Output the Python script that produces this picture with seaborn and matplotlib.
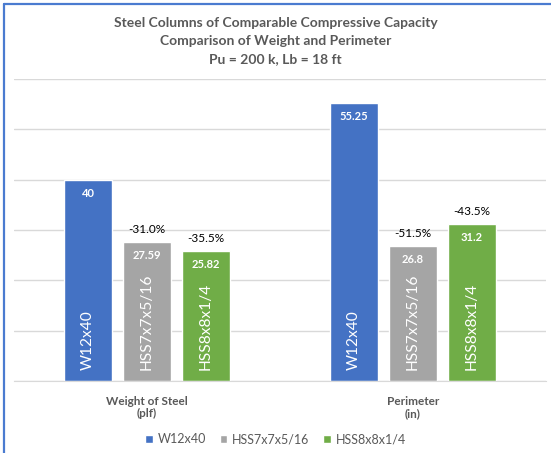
import matplotlib
matplotlib.use("Agg")
import matplotlib.pyplot as plt
import seaborn as sns
import pandas as pd
from matplotlib.lines import Line2D

# data
categories = ["Weight of Steel\n(plf)", "Perimeter\n(in)"]
sections = ["W12x40", "HSS7x7x5/16", "HSS8x8x1/4"]
w12_vals = [40, 55.25]
hss7_vals = [27.59, 26.8]
hss8_vals = [25.82, 31.2]
value_labels = [["40", "55.25"], ["27.59", "26.8"], ["25.82", "31.2"]]
pct_labels = [None, ["-31.0%", "-51.5%"], ["-35.5%", "-43.5%"]]
colors = ["#4472C4", "#A5A5A5", "#70AD47"]

rows = []
for sec, vals in zip(sections, [w12_vals, hss7_vals, hss8_vals]):
    for cat, v in zip(categories, vals):
        rows.append({"cat": cat, "section": sec, "value": v})
df = pd.DataFrame(rows)

sns.set_style("white")
plt.rcParams["font.family"] = ["Lato", "DejaVu Sans"]
text_grey = "#595959"

fig = plt.figure(figsize=(5.51, 4.53), dpi=100)
ax = fig.add_axes([14 / 551, 72 / 453, 532 / 551, 302 / 453])

sns.barplot(data=df, x="cat", y="value", hue="section", palette=colors,
            width=0.665, gap=0.2, ax=ax, saturation=1, errorbar=None)

ax.set_ylim(0, 60)
ax.set_xlim(-0.5, 1.5)
ax.set_yticks(range(0, 61, 10))
ax.yaxis.grid(True, color="#D9D9D9", linewidth=1)
ax.set_axisbelow(True)
ax.tick_params(axis="y", left=False, labelleft=False)
ax.tick_params(axis="x", bottom=False, pad=7)
for lab in ax.get_xticklabels():
    lab.set_fontweight("bold")
    lab.set_color(text_grey)
    lab.set_fontsize(8.5)
ax.set_xlabel("")
ax.set_ylabel("")
for s in ["top", "right", "left"]:
    ax.spines[s].set_visible(False)
ax.spines["bottom"].set_color("#D9D9D9")

# labels on the bars
for i, cont in enumerate(ax.containers):
    for j, bar in enumerate(cont):
        h = bar.get_height()
        xc = bar.get_x() + bar.get_width() / 2
        ax.annotate(value_labels[i][j], (xc, h), xytext=(0, -6), textcoords="offset points",
                    ha="center", va="top", color="white", fontsize=8, fontweight="bold")
        ax.annotate(sections[i], (xc, 0), xytext=(0, 8), textcoords="offset points",
                    ha="center", va="bottom", rotation=90, color="white", fontsize=11.2)
        if pct_labels[i] is not None:
            ax.annotate(pct_labels[i][j], (xc, h), xytext=(0, 5), textcoords="offset points",
                        ha="center", va="bottom", color="black", fontsize=8.5)

sns.move_legend(ax, "center", bbox_to_anchor=(0.5, 14 / 453), bbox_transform=fig.transFigure,
                ncol=3, frameon=False, title=None, fontsize=9, handlelength=0.6,
                handleheight=0.6, columnspacing=1.1, handletextpad=0.4)
for t in ax.get_legend().get_texts():
    t.set_color(text_grey)

fig.text(0.5, 1 - 23 / 453, "Steel Columns of Comparable Compressive Capacity",
         ha="center", va="center", fontsize=10, fontweight="bold", color=text_grey)
fig.text(0.5, 1 - 41 / 453, "Comparison of Weight and Perimeter",
         ha="center", va="center", fontsize=10, fontweight="bold", color=text_grey)
fig.text(0.5, 1 - 59 / 453, "Pu = 200 k, Lb = 18 ft",
         ha="center", va="center", fontsize=10, fontweight="bold", color=text_grey)

# selection border on top and left
fig.add_artist(Line2D([3.5 / 551, 3.5 / 551], [0, 1 - 4 / 453], color="#4A7BD0", linewidth=1.6))
fig.add_artist(Line2D([3.5 / 551, 1], [1 - 4 / 453, 1 - 4 / 453], color="#4A7BD0", linewidth=1.6))

fig.savefig("out.png", dpi=100)
